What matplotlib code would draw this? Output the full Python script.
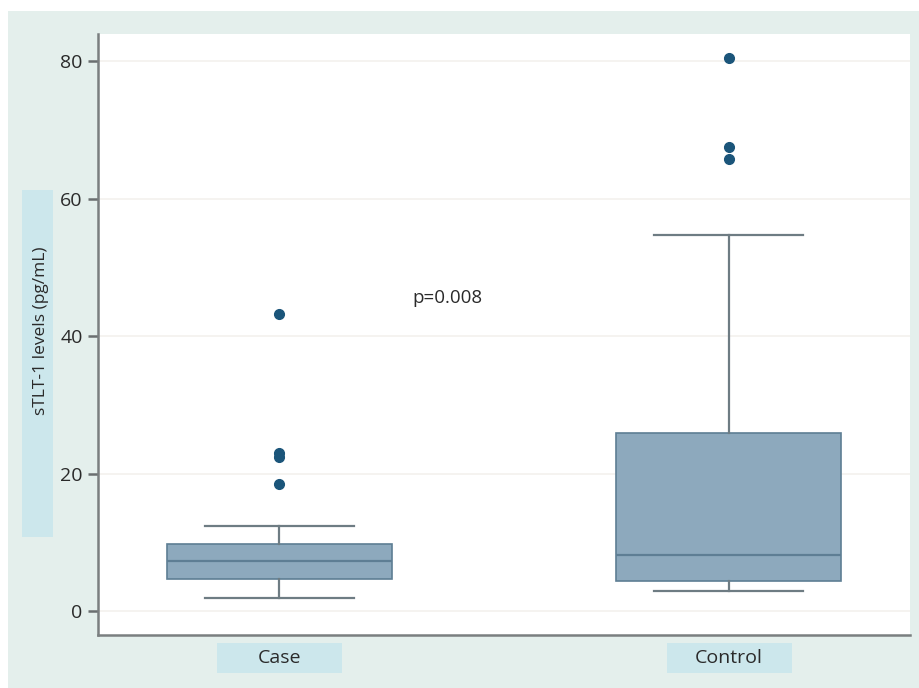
import matplotlib
matplotlib.use("Agg")
import matplotlib.pyplot as plt
from matplotlib.patches import Rectangle

# values
groups = ["Case", "Control"]
q1 = [4.6, 4.4]
med = [7.3, 8.1]
q3 = [9.8, 25.9]
whislo = [1.9, 2.9]
whishi = [12.4, 54.8]
fliers = [[43.3, 23.0, 22.4, 18.5], [80.5, 67.5, 65.8]]
yticks = [0, 20, 40, 60, 80]

BG = "#E4EFEC"
LBL = "#CCE7EC"
BOXF = "#8DA9BD"
BOXE = "#5E7E94"
WHIS = "#6E7C83"
DOT = "#1B557A"
INK = "#2A2A2A"

W, H = 920, 688
fig = plt.figure(figsize=(W / 100, H / 100), dpi=100)
fig.patch.set_facecolor("white")
# outer mint panel
fig.patches.append(Rectangle((8 / W, 0), 1, 1 - 11 / H, transform=fig.transFigure,
                             fc=BG, ec="none", zorder=-2))

ax = fig.add_axes([98 / W, (H - 635) / H, (910 - 98) / W, (635 - 34) / H])
ax.set_zorder(2)
ax.set_facecolor("white")

stats = []
for i, g in enumerate(groups):
    stats.append(dict(label=g, q1=q1[i], med=med[i], q3=q3[i],
                      whislo=whislo[i], whishi=whishi[i], fliers=fliers[i]))

ax.bxp(stats, positions=[1, 2], widths=0.5, patch_artist=True,
       boxprops=dict(facecolor=BOXF, edgecolor=BOXE, lw=1.2),
       medianprops=dict(color=BOXE, lw=1.6),
       whiskerprops=dict(color=WHIS, lw=1.6),
       capprops=dict(color=WHIS, lw=1.6), capwidths=0.33,
       flierprops=dict(marker="o", markerfacecolor=DOT, markeredgecolor=DOT, markersize=7))

ax.set_xlim(0.596, 2.404)
ax.set_ylim(-3.5, 84)
ax.set_yticks(yticks)
ax.set_yticklabels([str(t) for t in yticks], fontfamily="Open Sans", fontsize=14, color=INK)
ax.set_xticks([])
ax.grid(axis="y", color="#F3F1EE", lw=1.2)
ax.set_axisbelow(True)
for s in ["top", "right"]:
    ax.spines[s].set_visible(False)
for s in ["left", "bottom"]:
    ax.spines[s].set_color("#7A7F80")
    ax.spines[s].set_linewidth(1.8)
ax.tick_params(axis="y", length=7, width=1.8, color="#6A6F70", pad=4)

ax.text(1.297, 45.5, "p=0.008", fontfamily="Open Sans", fontsize=13.5, color=INK,
        ha="left", va="center")

# y label with its shaded box
fig.patches.append(Rectangle((22 / W, (H - 537) / H), 31 / W, (537 - 190) / H,
                             transform=fig.transFigure, fc=LBL, ec="none", zorder=-1))
fig.text(41 / W, (H - 331) / H, "sTLT-1 levels (pg/mL)", rotation=90, fontfamily="Open Sans",
         fontsize=12.5, color=INK, ha="center", va="center")

# x category labels with shaded boxes
for i, g in enumerate(groups):
    xc = ax.transData.transform((i + 1, 0))[0]
    fig.patches.append(Rectangle(((xc - 62) / W, (H - 673) / H), 125 / W, 30 / H,
                                 transform=fig.transFigure, fc=LBL, ec="none", zorder=-1))
    fig.text(xc / W, (H - 658) / H, g, fontfamily="Open Sans", fontsize=14, color=INK,
             ha="center", va="center")

fig.savefig("out.png", dpi=100)
